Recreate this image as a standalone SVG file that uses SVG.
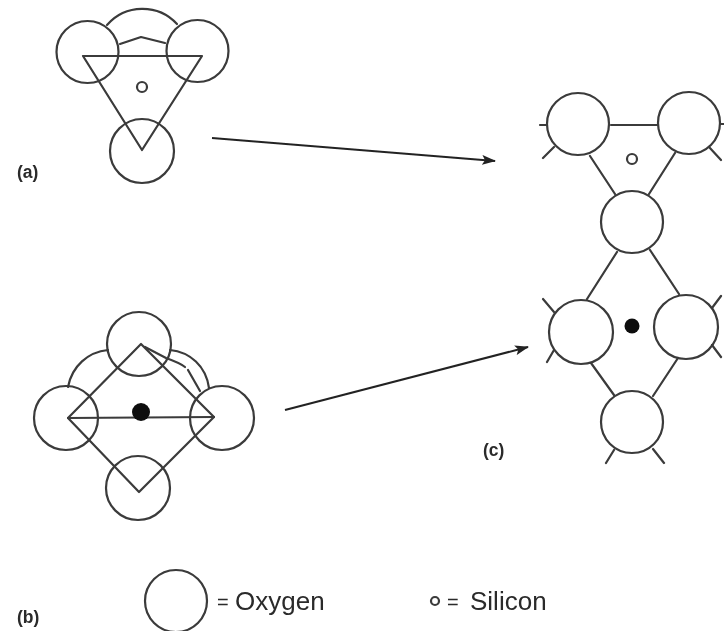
<svg xmlns="http://www.w3.org/2000/svg" width="724" height="631" viewBox="0 0 724 631">
<style>
.s{fill:none;stroke:#3a3a3a;stroke-width:2.2;stroke-linecap:round;stroke-linejoin:round}
.t{font-family:"Liberation Sans",Arial,sans-serif;fill:#2a2a2a}
.b{font-size:17.500px;font-weight:bold}
.l{font-size:26px}
.e{font-size:20px}
</style>
<defs>
<filter id="soft" x="-5%" y="-5%" width="110%" height="110%"><feGaussianBlur stdDeviation="0.45"/></filter>
<marker id="arrow" viewBox="0 0 14 10" refX="13" refY="5" markerWidth="14" markerHeight="10" markerUnits="userSpaceOnUse" orient="auto"><path d="M0 0L14 5L0 10L3 5Z" fill="#222"/></marker>
</defs>
<rect width="724" height="631" fill="#fff"/>
<g filter="url(#soft)">
<g id="tetrahedron-a">
<path class="s" d="M107 25A47 47 0 0 1 177 24"/>
<path class="s" d="M120 44L141 37L165 43"/>
<circle class="s" cx="87.500" cy="52" r="31"/>
<circle class="s" cx="197.500" cy="51" r="31"/>
<circle class="s" cx="142" cy="151" r="32"/>
<path class="s" d="M83 56H202L142 150Z"/>
<circle class="s" cx="142" cy="87" r="5"/>
</g>
<g id="tetrahedron-b">
<path class="s" d="M68 387C72 366 88 352 108 350"/>
<path class="s" d="M170 350C190 352 206 366 209 388"/>
<path class="s" d="M145 347L166 358Q180 363 185 367"/>
<path class="s" d="M188 370L200 391"/>
<circle class="s" cx="139" cy="344" r="32"/>
<circle class="s" cx="66" cy="418" r="32"/>
<circle class="s" cx="222" cy="418" r="32"/>
<circle class="s" cx="138" cy="488" r="32"/>
<path class="s" d="M141 344L214 417L139 492L68 418Z"/>
<path class="s" d="M68 418L214 417"/>
<circle cx="141" cy="412" r="9" fill="#111"/>
</g>
<g id="sheet-c">
<circle class="s" cx="578" cy="124" r="31"/>
<circle class="s" cx="689" cy="123" r="31"/>
<circle class="s" cx="632" cy="222" r="31"/>
<circle class="s" cx="581" cy="332" r="32"/>
<circle class="s" cx="686" cy="327" r="32"/>
<circle class="s" cx="632" cy="422" r="31"/>
<circle class="s" cx="632" cy="159" r="5"/>
<circle cx="632" cy="326" r="7.500" fill="#111"/>
</g>
<g id="connectors">
<path class="s" d="M611 125H657M590 156L615 194M675 153L649 194M617 252L587 299M650 250L679 294"/>
<path class="s" d="M591 363L614 395M678 358L653 396"/>
<path class="s" d="M540 125H547M543 158L554 147M709 147L721 160M721 124H724M543 299L554 312M547 362L554 350M712 308L721 296M712 345L721 357M614 450L606 463M653 449L664 463"/>
<path d="M212 138L495 161" fill="none" stroke="#222" stroke-width="2" marker-end="url(#arrow)"/>
<path d="M285 410L528 347" fill="none" stroke="#222" stroke-width="2" marker-end="url(#arrow)"/>
</g>
<g id="legend">
<circle class="s" cx="176" cy="601" r="31"/>
<text class="t e" x="217" y="609">=</text>
<text class="t l" x="235" y="610">Oxygen</text>
<circle class="s" cx="435" cy="601" r="4"/>
<text class="t e" x="447" y="609">=</text>
<text class="t l" x="470" y="610">Silicon</text>
</g>
<g id="labels">
<text class="t b" x="17" y="178">(a)</text>
<text class="t b" x="17" y="623">(b)</text>
<text class="t b" x="483" y="456">(c)</text>
</g>
</g>
</svg>
